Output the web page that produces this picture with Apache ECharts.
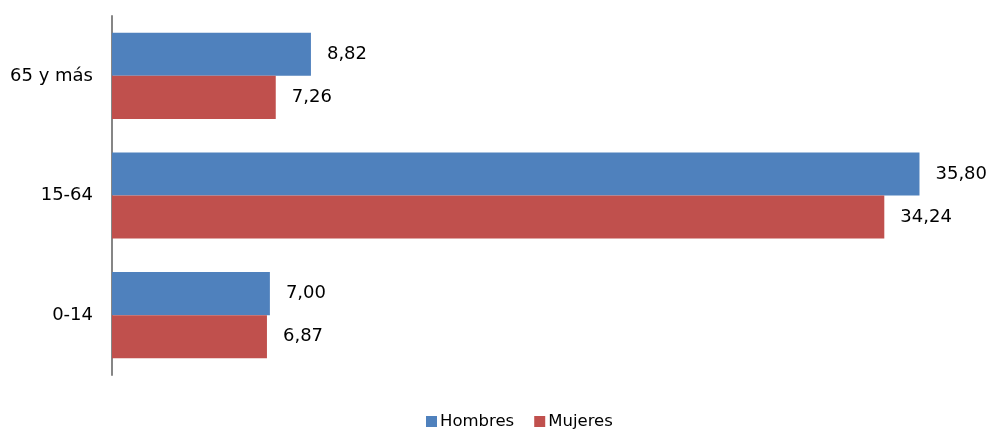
<!DOCTYPE html>
<html><head><meta charset="utf-8">
<script src="https://cdn.jsdelivr.net/npm/echarts@6/dist/echarts.min.js"></script>
<style>html,body{margin:0;padding:0;background:#fff}#c{width:992px;height:433px}</style>
</head><body><div id="c"></div>
<script>
var categories = ['0-14', '15-64', '65 y más'];
var hombres = [7.00, 35.80, 8.82];
var mujeres = [6.87, 34.24, 7.26];
var seriesNames = ['Hombres', 'Mujeres'];

var FONT = 'DejaVu Sans';
function fmt(p){ return p.value.toFixed(2).replace('.', ','); }
var chart = echarts.init(document.getElementById('c'));
chart.setOption({
  animation: false,
  textStyle: {fontFamily: FONT},
  grid: {left: 112, top: 16, bottom: 58, right: 68, containLabel: false},
  legend: {
    top: 413, left: 421, itemWidth: 11, itemHeight: 11, itemGap: 20,
    icon: 'rect', padding: [0,5,0,5],
    textStyle: {fontSize: 16.5, color: '#000', fontFamily: FONT, padding: [0,0,0,-2]},
    data: seriesNames
  },
  xAxis: {type: 'value', min: 0, max: 36, show: false},
  yAxis: {
    type: 'category', data: categories,
    axisLine: {lineStyle: {color: '#868686', width: 2}},
    axisTick: {show: false},
    axisLabel: {color: '#000', fontSize: 18, margin: 19, fontFamily: FONT}
  },
  series: [
    {name: seriesNames[0], type: 'bar', data: hombres, barGap: '0%', barCategoryGap: '28%',
     itemStyle: {color: '#4F81BD'},
     label: {show: true, position: 'right', distance: 16, formatter: fmt, color: '#000', fontSize: 18, fontFamily: FONT}},
    {name: seriesNames[1], type: 'bar', data: mujeres, barGap: '0%', barCategoryGap: '28%',
     itemStyle: {color: '#C0504D'},
     label: {show: true, position: 'right', distance: 16, formatter: fmt, color: '#000', fontSize: 18, fontFamily: FONT}}
  ]
});
</script></body></html>
